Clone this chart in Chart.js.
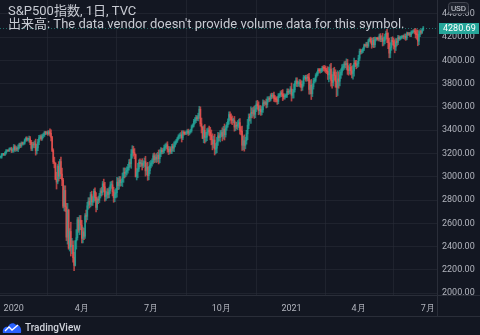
<!DOCTYPE html>
<html>
<head>
<meta charset="utf-8">
<script src="https://cdn.jsdelivr.net/npm/chart.js@4.4.0/dist/chart.umd.min.js"></script>
<style>
  html, body { margin: 0; padding: 0; background: #131722; }
  #wrap { position: relative; width: 480px; height: 335px; overflow: hidden; }
  #wrap canvas { position: absolute; left: 0; top: 0; }
  .legend { position: absolute; left: 8px; color: #c8cbd3; white-space: nowrap;
            font-family: Roboto, "Noto Sans CJK JP", sans-serif; font-size: 13px; line-height: 13px; }
  .brand { position: absolute; left: 2px; top: 321px; display: flex; align-items: center;
           color: #d1d4dc; font: 500 10px Roboto, sans-serif; }
  .brand svg { margin-right: 3px; }
</style>
</head>
<body>
<div id="wrap">
  <canvas id="spx" width="480" height="335"></canvas>
  <div class="legend" style="top:4px">S&amp;P500指数, 1日, TVC</div>
  <div class="legend" style="top:17px">出来高: The data vendor doesn't provide volume data for this symbol.</div>
  <div class="brand">
    <svg width="20" height="13" viewBox="0 0 20 13">
      <path d="M1 12 C0 8 3 5 6 6 C7 2 12 1 14 4 C17 3 20 7 19 12 Z" fill="#2962ff"/>
      <polyline points="3,10 7,6 10,9 16,4" fill="none" stroke="#fff" stroke-width="1.3"/>
    </svg>
    TradingView
  </div>
</div>
<script>
(function () {
    "use strict";

    /*----------------------------------------*/
    /*  data : S&P 500 daily closes + wick size
    /*----------------------------------------*/
    const firstOpen = 3168.57;
    const c1912 = [3168.80, 3191.45, 3192.52, 3191.14, 3205.37, 3221.22, 3224.01, 3223.38, 3239.91, 3240.02, 3221.29, 3230.78];
    const c2001 = [3257.85, 3234.85, 3246.28, 3237.18, 3253.05, 3274.70, 3265.35, 3288.13, 3283.15, 3289.29, 3316.81, 3329.62, 3320.79, 3321.75, 3325.54, 3295.47, 3243.63, 3276.24, 3273.40, 3283.66, 3225.52];
    const c2002 = [3248.92, 3297.59, 3334.69, 3345.78, 3327.71, 3352.09, 3357.75, 3379.45, 3373.94, 3380.16, 3370.29, 3386.15, 3373.23, 3337.75, 3225.89, 3128.21, 3116.39, 2978.76, 2954.22];
    const c2003 = [3090.23, 3003.37, 3130.12, 3023.94, 2972.37, 2746.56, 2882.23, 2741.38, 2480.64, 2711.02, 2386.13, 2529.19, 2398.10, 2409.39, 2304.92, 2237.40, 2447.33, 2475.56, 2630.07, 2541.47, 2626.65, 2584.59];
    const c2004 = [2470.50, 2526.90, 2488.65, 2663.68, 2659.41, 2749.98, 2789.82, 2761.63, 2846.06, 2783.36, 2799.55, 2874.56, 2823.16, 2736.56, 2799.31, 2797.80, 2836.74, 2878.48, 2863.39, 2939.51, 2912.43];
    const c2005 = [2830.71, 2842.74, 2868.44, 2848.42, 2881.19, 2929.80, 2930.32, 2870.12, 2820.00, 2852.50, 2863.70, 2953.91, 2922.94, 2971.61, 2948.51, 2955.45, 2991.77, 3036.13, 3029.73, 3044.31];
    const c2006 = [3055.73, 3080.82, 3122.87, 3112.35, 3193.93, 3232.39, 3207.18, 3190.14, 3002.10, 3041.31, 3066.59, 3124.74, 3113.49, 3115.34, 3097.74, 3117.86, 3131.29, 3050.33, 3083.76, 3009.05, 3053.24, 3100.29];
    const c2007 = [3115.86, 3130.01, 3179.72, 3145.32, 3169.94, 3152.05, 3185.04, 3155.22, 3197.52, 3226.56, 3215.57, 3224.73, 3251.84, 3257.30, 3276.02, 3235.66, 3215.63, 3239.41, 3218.44, 3258.44, 3246.22, 3271.12];
    const c2008 = [3294.61, 3306.51, 3327.77, 3349.16, 3351.28, 3360.47, 3333.69, 3380.35, 3373.43, 3372.85, 3381.99, 3389.78, 3374.85, 3385.51, 3397.16, 3431.28, 3443.62, 3478.73, 3484.55, 3508.01, 3500.31];
    const c2009 = [3526.65, 3580.84, 3455.06, 3426.96, 3331.84, 3398.96, 3339.19, 3340.97, 3383.54, 3401.20, 3385.49, 3357.01, 3319.47, 3281.06, 3315.57, 3236.92, 3246.59, 3298.46, 3351.60, 3335.47, 3363.00];
    const c2010 = [3380.80, 3348.42, 3408.60, 3360.97, 3419.44, 3446.83, 3477.14, 3534.22, 3511.93, 3488.67, 3483.34, 3483.81, 3426.92, 3443.12, 3435.56, 3453.49, 3465.39, 3400.97, 3390.68, 3271.03, 3310.11, 3269.96];
    const c2011 = [3310.24, 3369.16, 3443.44, 3510.45, 3509.44, 3550.50, 3545.53, 3572.66, 3537.01, 3585.15, 3626.91, 3609.53, 3567.79, 3581.87, 3557.54, 3577.59, 3635.41, 3629.65, 3638.35, 3621.63];
    const c2012 = [3662.45, 3669.01, 3666.72, 3699.12, 3691.96, 3702.25, 3672.82, 3668.10, 3663.46, 3647.49, 3694.62, 3701.17, 3722.48, 3709.41, 3694.92, 3687.26, 3690.01, 3703.06, 3735.36, 3727.04, 3732.04, 3756.07];
    const c2101 = [3700.65, 3726.86, 3748.14, 3803.79, 3824.68, 3799.61, 3801.19, 3809.84, 3795.54, 3768.25, 3798.91, 3851.85, 3853.07, 3841.47, 3855.36, 3849.62, 3750.77, 3787.38, 3714.24];
    const c2102 = [3773.86, 3826.31, 3830.17, 3871.74, 3886.83, 3915.59, 3911.23, 3909.88, 3916.38, 3934.83, 3932.59, 3931.33, 3913.97, 3906.71, 3876.50, 3881.37, 3925.43, 3829.34, 3811.15];
    const c2103 = [3901.82, 3870.29, 3819.72, 3768.47, 3841.94, 3821.35, 3875.44, 3898.81, 3939.34, 3943.34, 3968.94, 3962.71, 3974.12, 3915.46, 3913.10, 3940.59, 3910.52, 3889.14, 3909.52, 3974.54, 3971.09, 3958.55, 3972.89];
    const c2104 = [4019.87, 4077.91, 4073.94, 4079.95, 4097.17, 4128.80, 4127.99, 4141.59, 4124.66, 4170.42, 4185.47, 4163.26, 4134.94, 4173.42, 4134.98, 4180.17, 4187.62, 4186.72, 4183.18, 4211.47, 4181.17];
    const c2105 = [4192.66, 4164.66, 4167.59, 4201.62, 4232.60, 4188.43, 4152.10, 4063.04, 4112.50, 4173.85, 4163.29, 4127.83, 4115.68, 4159.12, 4155.86, 4197.05, 4188.13, 4195.99, 4200.88, 4204.11];
    const c2106 = [4202.04, 4208.12, 4192.85, 4229.89, 4226.52, 4227.26, 4219.55, 4239.18, 4247.44, 4255.15, 4246.59, 4223.70, 4221.86, 4166.45, 4224.79, 4246.44, 4241.84, 4266.49, 4280.69];

    // how far the wick reaches past the body, in points
    const w1912 = [8, 10, 9, 8, 9, 12, 7, 5, 8, 8, 14, 12];
    const w2001 = [20, 15, 18, 12, 22, 14, 15, 12, 10, 10, 10, 12, 14, 10, 25, 20, 18, 20, 22, 25, 40];
    const w2002 = [30, 25, 22, 12, 15, 14, 18, 12, 12, 10, 15, 10, 25, 30, 10, 15, 40, 5, 60];
    const w2003 = [15, 40, 20, 40, 50, 15, 40, 40, 30, 60, 10, 25, 80, 60, 40, 45, 5, 70, 20, 20, 40, 40];
    const w2004 = [40, 40, 30, 20, 50, 30, 30, 30, 20, 30, 30, 20, 30, 40, 20, 30, 20, 20, 30, 20, 40];
    const w2005 = [40, 35, 30, 30, 30, 25, 30, 35, 40, 35, 35, 40, 35, 30, 30, 25, 40, 40, 40, 30];
    const w2006 = [30, 25, 25, 30, 40, 35, 30, 35, 5, 30, 50, 20, 30, 25, 40, 20, 30, 45, 35, 40, 35, 30];
    const w2007 = [25, 25, 20, 25, 20, 30, 25, 45, 35, 25, 20, 18, 20, 25, 15, 25, 25, 20, 18, 20, 25, 30];
    const w2008 = [15, 15, 12, 12, 20, 20, 35, 15, 15, 12, 12, 15, 20, 15, 12, 14, 12, 15, 25, 20, 15];
    const w2009 = [20, 25, 20, 50, 5, 40, 50, 40, 30, 20, 35, 40, 45, 50, 35, 50, 40, 40, 30, 25, 35];
    const w2010 = [20, 40, 25, 45, 20, 20, 20, 25, 25, 30, 35, 20, 35, 30, 25, 30, 30, 35, 30, 45, 40, 50];
    const w2011 = [30, 30, 50, 30, 30, 50, 40, 25, 35, 30, 25, 30, 35, 30, 30, 25, 25, 20, 12, 30];
    const w2012 = [25, 20, 20, 15, 20, 15, 25, 25, 20, 25, 20, 15, 15, 20, 40, 20, 20, 10, 20, 20, 15, 20];
    const w2101 = [50, 25, 50, 20, 25, 25, 20, 25, 25, 30, 25, 20, 15, 20, 20, 25, 40, 40, 50];
    const w2102 = [25, 20, 20, 15, 15, 15, 15, 20, 15, 15, 20, 25, 20, 20, 40, 60, 40, 50, 50];
    const w2103 = [30, 40, 50, 80, 70, 60, 40, 30, 25, 25, 20, 25, 40, 35, 40, 30, 35, 40, 50, 45, 25, 30, 20];
    const w2104 = [25, 20, 20, 15, 12, 12, 12, 15, 15, 12, 10, 15, 30, 20, 25, 20, 12, 10, 15, 15, 20];
    const w2105 = [20, 40, 35, 25, 20, 35, 50, 40, 40, 25, 30, 30, 50, 30, 30, 20, 15, 12, 12, 10];
    const w2106 = [15, 20, 20, 15, 12, 12, 15, 15, 10, 10, 15, 30, 40, 40, 30, 20, 15, 10, 12];

    const closes = [].concat(c1912, c2001, c2002, c2003, c2004, c2005, c2006, c2007, c2008, c2009, c2010, c2011, c2012,
        c2101, c2102, c2103, c2104, c2105, c2106);
    const wicks = [].concat(w1912, w2001, w2002, w2003, w2004, w2005, w2006, w2007, w2008, w2009, w2010, w2011, w2012,
        w2101, w2102, w2103, w2104, w2105, w2106);

    // market holidays inside the window
    const holidays = ["2019-12-25", "2020-01-01", "2020-01-20", "2020-02-17", "2020-04-10", "2020-05-25", "2020-07-03",
        "2020-09-07", "2020-11-26", "2020-12-25", "2021-01-01", "2021-01-18", "2021-02-15", "2021-04-02",
        "2021-05-31", "2021-07-05"];
    const firstDay = "2019-12-13";
    const totalSlots = 398;  // data days plus empty future days on the right

    const quarterLabels = {"2020-01": "2020", "2020-04": "4月", "2020-07": "7月", "2020-10": "10月",
        "2021-01": "2021", "2021-04": "4月", "2021-07": "7月"};
    const priceTicks = [2000, 2200, 2400, 2600, 2800, 3000, 3200, 3400, 3600, 3800, 4000, 4200, 4400];
    const lastPrice = 4280.69;

    const upColor = '#26a69a';
    const upBar = 'rgba(38,166,154,0.72)';
    const downBar = 'rgba(239,83,80,0.72)';

    // trading calendar
    const days = [];
    let d = new Date(firstDay + "T00:00:00Z");
    while (days.length < totalSlots) {
        const s = d.toISOString().slice(0, 10);
        const wd = d.getUTCDay();
        if (wd !== 0 && wd !== 6 && holidays.indexOf(s) < 0) days.push(s);
        d.setUTCDate(d.getUTCDate() + 1);
    }

    // first trading day of each labelled month
    const tickIdx = {};
    days.forEach(function (s, i) {
        const m = s.slice(0, 7);
        if (quarterLabels[m] && tickIdx[m] === undefined) tickIdx[m] = i;
    });
    const tickSet = Object.keys(tickIdx).map(function (k) { return tickIdx[k]; });

    const bodies = [], ranges = [], colors = [];
    closes.forEach(function (c, i) {
        const o = i ? closes[i - 1] : firstOpen;
        const w = wicks[i];
        bodies.push([o, c]);
        ranges.push([Math.min(o, c) - w, Math.max(o, c) + w]);
        colors.push(c >= o ? upBar : downBar);
    });

    const gridColor = 'rgba(42,46,57,0.55)';
    const axisColor = '#2a2e39';
    const textColor = '#b2b5be';

    const overlay = {
        id: 'tvOverlay',
        afterDraw: function (chart) {
            const ctx = chart.ctx;
            const area = chart.chartArea;
            const y = Math.round(chart.scales.y.getPixelForValue(lastPrice));
            ctx.save();
            // axis borders
            ctx.strokeStyle = axisColor;
            ctx.lineWidth = 1;
            ctx.beginPath();
            ctx.moveTo(0, 295.5); ctx.lineTo(480, 295.5);
            ctx.moveTo(area.right + 0.5, 0); ctx.lineTo(area.right + 0.5, 316);
            ctx.moveTo(0, 316.5); ctx.lineTo(480, 316.5);
            ctx.stroke();
            // last price line
            ctx.strokeStyle = 'rgba(38,166,154,0.6)';
            ctx.setLineDash([1, 2]);
            ctx.beginPath();
            ctx.moveTo(area.left, y + 0.5);
            ctx.lineTo(area.right, y + 0.5);
            ctx.stroke();
            ctx.setLineDash([]);
            // last price label
            ctx.fillStyle = upColor;
            ctx.fillRect(area.right + 2, y - 5, 40, 11);
            ctx.fillStyle = '#ffffff';
            ctx.font = '9px Roboto, sans-serif';
            ctx.textBaseline = 'middle';
            ctx.textAlign = 'left';
            ctx.fillText(lastPrice.toFixed(2), area.right + 6, y + 1);
            // currency badge
            ctx.fillStyle = '#1e222d';
            ctx.strokeStyle = '#434651';
            ctx.beginPath();
            ctx.roundRect(448.5, 2.5, 20, 11, 3);
            ctx.fill();
            ctx.stroke();
            ctx.fillStyle = '#d1d4dc';
            ctx.font = '8px Roboto, sans-serif';
            ctx.textAlign = 'center';
            ctx.fillText('USD', 458.5, 8.5);
            ctx.restore();
        }
    };

    new Chart(document.getElementById("spx"), {
        type: 'bar',
        data: {
            labels: days,
            datasets: [{
                label: 'body',
                data: bodies,
                backgroundColor: colors,
                barThickness: 1,
                minBarLength: 1,
                grouped: false
            }, {
                label: 'wick',
                data: ranges,
                backgroundColor: colors,
                barThickness: 1,
                grouped: false
            }]
        },
        options: {
            responsive: false,
            animation: false,
            layout: { padding: 0 },
            plugins: { legend: { display: false }, tooltip: { enabled: false } },
            scales: {
                x: {
                    offset: true,
                    afterBuildTicks: function (s) {
                        s.ticks = tickSet.map(function (v) { return { value: v }; });
                    },
                    afterFit: function (s) {
                        s.height = 40;
                        s.paddingLeft = 0;
                        s.paddingRight = 0;
                    },
                    ticks: {
                        autoSkip: false,
                        maxRotation: 0,
                        padding: 8,
                        color: textColor,
                        font: { family: 'Roboto', size: 9 },
                        callback: function (v) {
                            return quarterLabels[days[v].slice(0, 7)];
                        }
                    },
                    grid: { color: gridColor, drawTicks: false },
                    border: { display: false }
                },
                y: {
                    position: 'right',
                    min: 1983,
                    max: 4520,
                    afterBuildTicks: function (s) {
                        s.ticks = priceTicks.map(function (v) { return { value: v }; });
                    },
                    afterFit: function (s) {
                        s.width = 43;
                        s.paddingTop = 0;
                        s.paddingBottom = 0;
                    },
                    ticks: {
                        padding: 5,
                        color: textColor,
                        font: { family: 'Roboto', size: 9 },
                        callback: function (v) { return v.toFixed(2); }
                    },
                    grid: { color: gridColor, drawTicks: false },
                    border: { display: false }
                }
            }
        },
        plugins: [overlay]
    });
})();
</script>
</body>
</html>
